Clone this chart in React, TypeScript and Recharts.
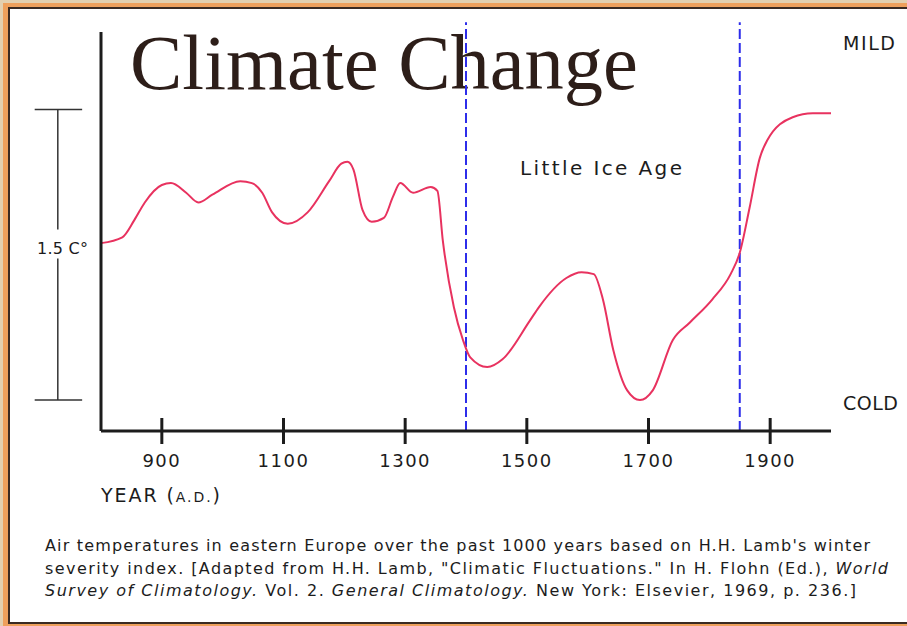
import React from "react";
import { LineChart, Line, XAxis, YAxis, ReferenceLine } from "recharts";

// winter severity curve (0 = COLD line, 1.5 = MILD line)
const years = [
  800, 835, 855, 872, 900, 915, 940, 960, 983, 1029, 1048, 1065, 1081, 1107, 1140,
  1175, 1195, 1205, 1215, 1230, 1245, 1265, 1280, 1292, 1313, 1342, 1353, 1362,
  1380, 1395, 1407, 1435, 1460, 1505, 1520, 1565, 1590, 1610, 1625, 1642, 1665,
  1686, 1707, 1740, 1768, 1805, 1835, 1850, 1866, 1883, 1895, 1937, 1970, 2000,
];
const temps = [
  0.81, 0.84, 0.93, 1.02, 1.11, 1.12, 1.07, 1.02, 1.06, 1.13, 1.12, 1.07, 0.97, 0.91, 0.97,
  1.13, 1.22, 1.23, 1.19, 0.98, 0.92, 0.94, 1.05, 1.12, 1.07, 1.1, 1.08, 0.82,
  0.48, 0.31, 0.22, 0.17, 0.21, 0.41, 0.48, 0.63, 0.66, 0.65, 0.52, 0.26, 0.05,
  0.0, 0.05, 0.31, 0.4, 0.52, 0.65, 0.76, 0.99, 1.25, 1.34, 1.46, 1.48, 1.48,
];
const yearTicks = [900, 1100, 1300, 1500, 1700, 1900];
const iceAgeBounds = [1400, 1850];
const scaleLow = 0;
const scaleHigh = 1.5;

const data = years.map((year, i) => ({ year, temp: temps[i] }));

const INK = "#1c1c1c";
const FONT = "'DejaVu Sans', sans-serif";

// bar sits left of the y axis, so its x positions are in years before 800
const BAR_LEFT = 691;
const BAR_MID = 729;
const BAR_RIGHT = 769;

const YearTick = ({ x, y, payload }: any) => (
  <g>
    <line x1={x} x2={x} y1={y - 13} y2={y + 13} stroke={INK} strokeWidth={3} />
    <text
      x={x}
      y={y + 36}
      textAnchor="middle"
      fontFamily={FONT}
      fontSize={18}
      letterSpacing={1.5}
      fill={INK}
    >
      {payload.value}
    </text>
  </g>
);

const barSegments = [
  [{ x: BAR_LEFT, y: scaleHigh }, { x: BAR_RIGHT, y: scaleHigh }],
  [{ x: BAR_LEFT, y: scaleLow }, { x: BAR_RIGHT, y: scaleLow }],
  [{ x: BAR_MID, y: scaleHigh }, { x: BAR_MID, y: 0.88 }],
  [{ x: BAR_MID, y: 0.73 }, { x: BAR_MID, y: scaleLow }],
];

export default function App() {
  return (
    <div
      style={{
        position: "absolute",
        left: 0,
        top: 0,
        width: 907,
        height: 626,
        overflow: "hidden",
        background: "#e3d0b0",
      }}
    >
      <div
        style={{
          position: "absolute",
          left: 3,
          top: 3,
          width: 940,
          height: 640,
          background: "#eea05c",
        }}
      />
      <div
        style={{
          position: "absolute",
          left: 8,
          top: 7,
          width: 930,
          height: 613,
          background: "#fff",
          border: "2px solid #3a2a22",
        }}
      />
      <svg width={907} height={626} style={{ position: "absolute", left: 0, top: 0 }}>
        <text
          x={130}
          y={89}
          fontFamily="'Liberation Serif', 'Times New Roman', serif"
          fontSize={78.5}
          fill="#2d1e19"
        >
          Climate Change
        </text>
      </svg>
      <div style={{ position: "absolute", left: 0, top: 0 }}>
        <LineChart
          width={907}
          height={626}
          data={data}
          margin={{ top: 32, right: 76, bottom: 155, left: 61 }}
        >
          <XAxis
            dataKey="year"
            type="number"
            domain={[800, 2000]}
            ticks={yearTicks}
            height={40}
            tickSize={0}
            tickMargin={0}
            tickLine={false}
            axisLine={{ stroke: INK, strokeWidth: 3 }}
            tick={<YearTick />}
            interval={0}
          />
          <YAxis
            type="number"
            domain={[-0.16, 1.9]}
            width={40}
            tick={false}
            tickLine={false}
            axisLine={{ stroke: INK, strokeWidth: 3 }}
          />
          {iceAgeBounds.map((yr) => (
            <ReferenceLine
              key={yr}
              segment={[
                { x: yr, y: -0.16 },
                { x: yr, y: 1.95 },
              ]}
              ifOverflow="visible"
              stroke="#2d2dea"
              strokeWidth={2}
              strokeDasharray="10 4"
            />
          ))}
          {barSegments.map((seg, i) => (
            <ReferenceLine
              key={"bar" + i}
              segment={seg}
              ifOverflow="visible"
              stroke="#333"
              strokeWidth={1.5}
            />
          ))}
          <Line
            type="monotone"
            dataKey="temp"
            stroke="#e8325f"
            strokeWidth={2}
            dot={false}
            isAnimationActive={false}
          />
        </LineChart>
      </div>
      <svg
        width={907}
        height={626}
        style={{ position: "absolute", left: 0, top: 0, pointerEvents: "none" }}
        fontFamily={FONT}
        fill={INK}
      >
        <text x={37} y={254} fontSize={16} textLength={51} lengthAdjust="spacing">
          1.5 C°
        </text>
        <text x={520} y={175} fontSize={20} textLength={162} lengthAdjust="spacing">
          Little Ice Age
        </text>
        <text x={843} y={50} fontSize={19} textLength={52} lengthAdjust="spacing">
          MILD
        </text>
        <text x={843} y={410} fontSize={19} textLength={55} lengthAdjust="spacing">
          COLD
        </text>
        <text x={101} y={502} fontSize={19} textLength={119} lengthAdjust="spacing">
          YEAR (<tspan fontSize={14}>A.D.</tspan>)
        </text>
        <text x={45} y={551} fontSize={16} textLength={825} lengthAdjust="spacing">
          Air temperatures in eastern Europe over the past 1000 years based on H.H. Lamb's winter
        </text>
        <text x={45} y={574} fontSize={16} textLength={843} lengthAdjust="spacing">
          severity index.  [Adapted from H.H. Lamb, "Climatic Fluctuations." In H. Flohn (Ed.),{" "}
          <tspan fontStyle="italic">World</tspan>
        </text>
        <text x={45} y={596} fontSize={16} textLength={811} lengthAdjust="spacing">
          <tspan fontStyle="italic">Survey of Climatology.</tspan> Vol. 2.{" "}
          <tspan fontStyle="italic">General Climatology.</tspan> New York: Elsevier, 1969, p. 236.]
        </text>
      </svg>
    </div>
  );
}
